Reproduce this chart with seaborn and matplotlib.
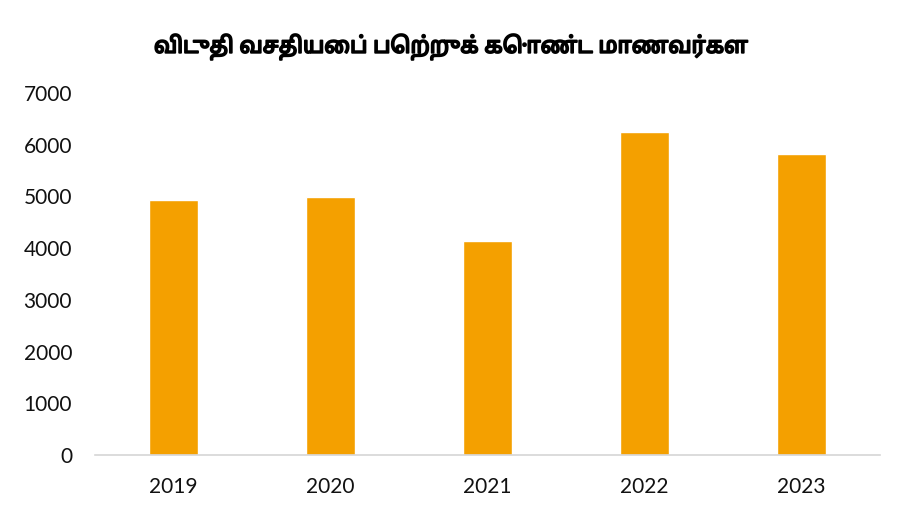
import matplotlib
matplotlib.use("Agg")
import matplotlib.pyplot as plt
import matplotlib.patheffects as pe
import seaborn as sns
import pandas as pd

years = ["2019", "2020", "2021", "2022", "2023"]
students = [4940, 4980, 4140, 6250, 5830]
title = "விடுதி வசதியைப் பெற்றுக் கொண்ட மாணவர்கள"

sns.set_theme(style="white")
plt.rcParams["font.family"] = ["Lato", "DejaVu Sans"]

df = pd.DataFrame({"year": years, "students": students})

fig = plt.figure(figsize=(9.02, 5.11), dpi=100)
ax = fig.add_axes([95 / 902, 1 - 455 / 511, 785 / 902, 362 / 511])

sns.barplot(data=df, x="year", y="students", color="#F4A000", saturation=1,
            width=0.31, ax=ax)

ax.set_ylim(0, 7000)
ax.set_yticks(range(0, 7001, 1000))
ax.set_xlabel("")
ax.set_ylabel("")
ax.tick_params(axis="both", labelsize=15, colors="#111111", length=0)
ax.tick_params(axis="y", pad=16.5)
ax.tick_params(axis="x", pad=16)
sns.despine(ax=ax, left=True)
ax.spines["bottom"].set_color("#d6d6d6")
ax.spines["bottom"].set_linewidth(1.2)

# tamil font has no bold face, thicken it with a stroke
fig.text(0.5, 1 - 47 / 511, title, ha="center", va="center", fontsize=16,
         fontweight="bold", color="black",
         family=["Noto Sans Tamil", "Lohit Tamil", "FreeSans", "Latha", "DejaVu Sans"],
         path_effects=[pe.withStroke(linewidth=1.3, foreground="black")])

fig.savefig("out.png", dpi=100)
